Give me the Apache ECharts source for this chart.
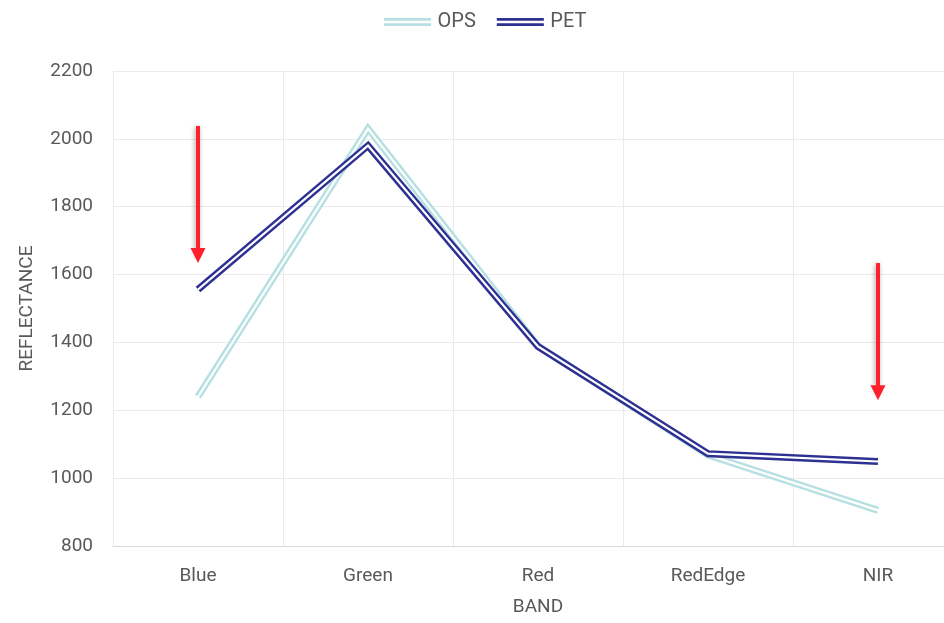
<!DOCTYPE html>
<html><head><meta charset="utf-8">
<script src="https://cdn.jsdelivr.net/npm/echarts@6/dist/echarts.min.js"></script>
<style>html,body{margin:0;padding:0;background:#fff}#c{width:944px;height:623px}</style>
</head><body><div id="c"></div>
<script>
const categories = ['Blue','Green','Red','RedEdge','NIR'];
const opsValues = [1240, 2030, 1390, 1068, 905];
const petValues = [1556, 1980, 1388, 1072, 1049];
const yTicks = [800, 1000, 1200, 1400, 1600, 1800, 2000, 2200];
// annotation arrows: [category, fromValue, toValue]
const arrows = [['Blue', 2038, 1656], ['NIR', 1634, 1252]];

const font = "'Roboto', sans-serif";
const txt = '#595959';
const chart = echarts.init(document.getElementById('c'));

function dbl(name, data, color, z) {
  return [
    {name: name, type: 'line', data: data, symbol: 'none', z: z,
     lineStyle: {color: color, width: 7, join: 'miter'}, itemStyle: {color: color}, silent: true},
    {name: name + '_in', type: 'line', data: data, symbol: 'none', z: z + 1,
     lineStyle: {color: '#ffffff', width: 2.2, join: 'miter'}, silent: true}
  ];
}

const series = [].concat(
  dbl('OPS', opsValues, '#b7e0e3', 2),
  dbl('PET', petValues, '#2e3192', 4)
);
series.push({
  name: 'arrows', type: 'line', data: [], z: 10, silent: true,
  markLine: {
    silent: true, symbol: ['none', 'triangle'], symbolSize: [15, 15],
    label: {show: false},
    lineStyle: {color: '#ff1f2d', width: 4, type: 'solid', shadowBlur: 5, shadowColor: 'rgba(0,0,0,0.35)', shadowOffsetX: -1, shadowOffsetY: 1},
    data: arrows.map(a => [{coord: [a[0], a[1]]}, {coord: [a[0], a[2]]}])
  }
});

const bars = 'path://M0,0H50V3H0Z M0,5.5H50V8.5H0Z';
chart.setOption({
  animation: false,
  legend: {
    data: [{name: 'OPS', icon: bars}, {name: 'PET', icon: bars}],
    top: 7, left: 379, itemWidth: 50, itemHeight: 8, itemGap: 21,
    textStyle: {color: txt, fontSize: 20, fontFamily: font}
  },
  grid: {left: 113, top: 71, width: 850, height: 475, containLabel: false, outerBoundsMode: 'none'},
  xAxis: {
    type: 'category', data: categories, boundaryGap: true,
    name: 'BAND', nameLocation: 'middle', nameGap: 52,
    nameTextStyle: {color: txt, fontSize: 19, fontFamily: font},
    axisLine: {lineStyle: {color: '#d9d9d9', width: 1}},
    axisTick: {show: false},
    axisLabel: {color: txt, fontSize: 19, fontFamily: font, margin: 21},
    splitLine: {show: true, interval: 0, lineStyle: {color: '#ebebeb', width: 1}}
  },
  yAxis: {
    type: 'value', min: yTicks[0], max: yTicks[yTicks.length - 1], interval: 200,
    name: 'REFLECTANCE', nameLocation: 'middle', nameGap: 76, nameRotate: 90,
    nameTextStyle: {color: txt, fontSize: 19, fontFamily: font},
    axisLine: {show: false}, axisTick: {show: false},
    axisLabel: {color: txt, fontSize: 19, fontFamily: font, margin: 20, formatter: v => String(v)},
    splitLine: {show: true, lineStyle: {color: '#ebebeb', width: 1}}
  },
  series: series
});
</script></body></html>
